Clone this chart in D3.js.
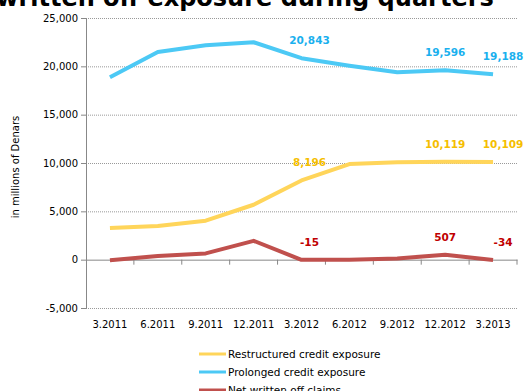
<!DOCTYPE html>
<html lang="en">
<head>
  <meta charset="UTF-8">
  <title>d3</title>
  <script src="https://d3js.org/d3.v7.min.js"></script>
  <style>
    body { margin: 0; background: #fff; }
    text { font-family: "DejaVu Sans", Verdana, sans-serif; }
  </style>
</head>
<body>
  <div class="canvas"></div>
  <script>
    const quarters = ['3.2011', '6.2011', '9.2011', '12.2011', '3.2012', '6.2012', '9.2012', '12.2012', '3.2013'];
    const restructured = [3270, 3480, 4030, 5680, 8196, 9890, 10080, 10119, 10109];
    const prolonged = [18870, 21490, 22180, 22490, 20843, 20070, 19390, 19596, 19188];
    const netWrittenOff = [-50, 380, 650, 1950, -15, -10, 130, 507, -34];
    const yTicks = [-5000, 0, 5000, 10000, 15000, 20000, 25000];
    const labelled = ['3.2012', '12.2012', '3.2013'];
    const seriesNames = ['Restructured credit exposure', 'Prolonged credit exposure', 'Net written off claims'];

    const width = 526;
    const height = 391;
    const [mt, ml] = [18, 86];
    const graphWidth = 431;
    const graphHeight = 290;

    // plain hyphen for negatives, like the original
    const fmt = v => d3.format(',')(v).replace('\u2212', '-');

    const series = [
      { name: seriesNames[0], values: restructured, color: '#ffd55a', labelColor: '#f5be00' },
      { name: seriesNames[1], values: prolonged, color: '#4cc9f5', labelColor: '#1ab0ee' },
      { name: seriesNames[2], values: netWrittenOff, color: '#c0504d', labelColor: '#c00000' }
    ];

    const svg = d3.select('.canvas')
                  .append('svg')
                  .attr('width', width)
                  .attr('height', height);

    // title, cut off at the top like the original
    svg.append('text')
      .attr('x', 245)
      .attr('y', 6)
      .attr('text-anchor', 'middle')
      .style('font-size', '24px')
      .style('font-weight', 'bold')
      .text('written off exposure during quarters');

    const graph = svg.append('g')
                     .attr('transform', `translate(${ml}, ${mt})`);

    const x = d3.scaleBand()
                .domain(quarters)
                .range([0, graphWidth]);

    const y = d3.scaleLinear()
                .domain([-5000, 25000])
                .range([graphHeight, 0]);

    // grid lines
    graph.selectAll('.grid')
      .data(yTicks.filter(d => d !== 0))
      .enter()
      .append('line')
      .attr('x1', 0)
      .attr('x2', graphWidth)
      .attr('y1', d => y(d) + 0.5)
      .attr('y2', d => y(d) + 0.5)
      .attr('stroke', '#999')
      .attr('stroke-dasharray', '1,1');

    // y axis
    const yAxis = graph.append('g')
      .call(d3.axisLeft(y).tickValues(yTicks).tickSize(5).tickFormat(fmt));
    yAxis.select('.domain').attr('stroke', '#888');
    yAxis.selectAll('.tick line').attr('stroke', '#888');
    yAxis.selectAll('text')
      .style('font-size', '10px')
      .attr('fill', '#000')
      .attr('x', -8);

    // x axis on zero
    const xAxis = graph.append('g')
      .attr('transform', `translate(0, ${y(0)})`)
      .call(d3.axisBottom(x).tickSize(0).tickFormat(''));
    xAxis.select('.domain').attr('stroke', '#888');
    xAxis.selectAll('.tick').remove();
    xAxis.selectAll('.sep')
      .data(quarters)
      .enter()
      .append('line')
      .attr('x1', d => x(d) + x.bandwidth())
      .attr('x2', d => x(d) + x.bandwidth())
      .attr('y1', 0)
      .attr('y2', 5)
      .attr('stroke', '#888');

    // category labels below plot
    graph.selectAll('.xlab')
      .data(quarters)
      .enter()
      .append('text')
      .attr('x', d => x(d) + x.bandwidth() / 2)
      .attr('y', graphHeight + 20)
      .attr('text-anchor', 'middle')
      .style('font-size', '10px')
      .text(d => d);

    svg.append('text')
      .attr('transform', `translate(19, ${mt + 149}) rotate(-90)`)
      .attr('text-anchor', 'middle')
      .style('font-size', '10px')
      .text('in millions of Denars');

    const line = d3.line()
                   .x((d, i) => x(quarters[i]) + x.bandwidth() / 2)
                   .y(d => y(d));

    series.forEach(s => {
      graph.append('path')
        .datum(s.values)
        .attr('fill', 'none')
        .attr('stroke', s.color)
        .attr('stroke-width', 4)
        .attr('stroke-linejoin', 'round')
        .attr('d', line);

      const pts = s.values.map((v, i) => ({ q: quarters[i], v: v }))
                          .filter(p => labelled.includes(p.q));
      graph.selectAll(null)
        .data(pts)
        .enter()
        .append('text')
        .attr('x', p => x(p.q) + x.bandwidth() / 2 + (p.q === '12.2012' ? 0 : p.q === '3.2013' ? 10 : 8))
        .attr('y', p => y(p.v) - 14)
        .attr('text-anchor', 'middle')
        .attr('fill', s.labelColor)
        .style('font-size', '10.5px')
        .style('font-weight', 'bold')
        .text(p => fmt(p.v));
    });

    // legend
    const legend = svg.append('g')
                      .attr('transform', 'translate(199, 354)');
    series.forEach((s, i) => {
      legend.append('line')
        .attr('x1', 0)
        .attr('x2', 27)
        .attr('y1', i * 18)
        .attr('y2', i * 18)
        .attr('stroke', s.color)
        .attr('stroke-width', 3);
      legend.append('text')
        .attr('x', 29)
        .attr('y', i * 18 + 4)
        .style('font-size', '10.5px')
        .text(s.name);
    });
  </script>
</body>
</html>
